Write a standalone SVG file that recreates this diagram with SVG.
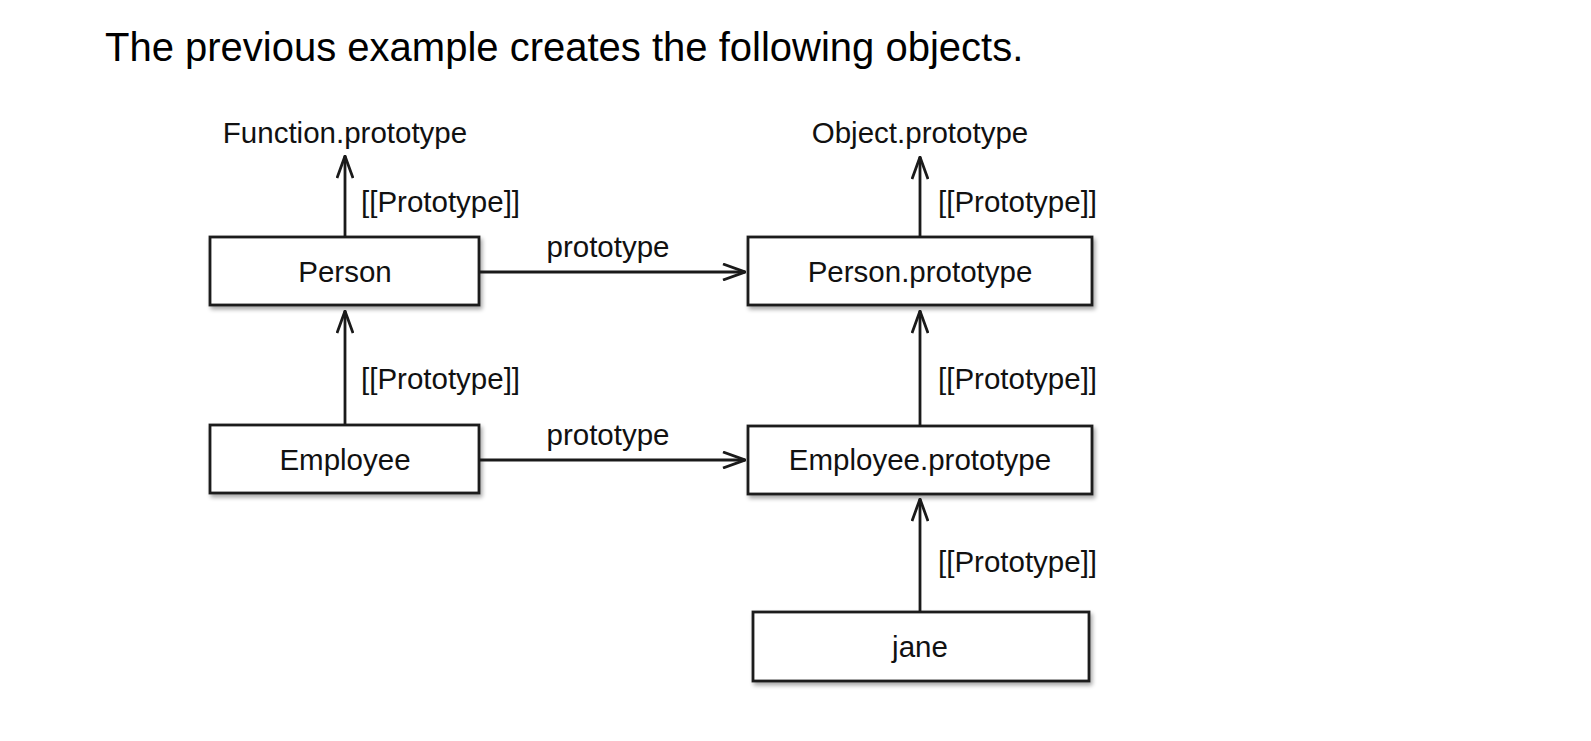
<svg xmlns="http://www.w3.org/2000/svg" width="1591" height="741" viewBox="0 0 1591 741">
<style>
.t{font-family:"Liberation Sans",Arial,Helvetica,sans-serif;fill:#111}
.title{font-size:40px;fill:#000}
.lbl{font-size:29.5px}
.box{fill:#fff;stroke:#1a1a1a;stroke-width:2.8;filter:url(#sh)}
.ln{fill:none;stroke:#1a1a1a;stroke-width:2.8}
</style>
<defs>
<filter id="sh" x="-10%" y="-20%" width="130%" height="160%">
<feGaussianBlur in="SourceAlpha" stdDeviation="2"/>
<feOffset dx="1.5" dy="3" result="b"/>
<feComponentTransfer><feFuncA type="linear" slope="0.35"/></feComponentTransfer>
<feMerge><feMergeNode/><feMergeNode in="SourceGraphic"/></feMerge>
</filter>
<marker id="ah" viewBox="0 0 24 18" refX="23" refY="9" markerWidth="24" markerHeight="18" markerUnits="userSpaceOnUse" orient="auto">
<path d="M1,1 L23,9 L1,17" fill="none" stroke="#1a1a1a" stroke-width="2.8" stroke-linejoin="miter"/>
</marker>
</defs>
<rect width="1591" height="741" fill="#fff"/>
<text class="t title" x="105" y="61">The previous example creates the following objects.</text>

<g id="function-prototype"><text class="t lbl" x="345" y="143" text-anchor="middle">Function.prototype</text></g>
<g id="object-prototype"><text class="t lbl" x="920" y="143" text-anchor="middle">Object.prototype</text></g>

<g id="person">
<rect class="box" x="210" y="237" width="269" height="68"/>
<text class="t lbl" x="345" y="282" text-anchor="middle">Person</text>
</g>
<g id="person-prototype">
<rect class="box" x="748" y="237" width="344" height="68"/>
<text class="t lbl" x="920" y="282" text-anchor="middle">Person.prototype</text>
</g>
<g id="employee">
<rect class="box" x="210" y="425" width="269" height="68"/>
<text class="t lbl" x="345" y="470" text-anchor="middle">Employee</text>
</g>
<g id="employee-prototype">
<rect class="box" x="748" y="426" width="344" height="68"/>
<text class="t lbl" x="920" y="470" text-anchor="middle">Employee.prototype</text>
</g>
<g id="jane">
<rect class="box" x="753" y="612" width="336" height="69"/>
<text class="t lbl" x="920" y="657" text-anchor="middle">jane</text>
</g>

<g id="connectors">
<line class="ln" x1="345" y1="237" x2="345" y2="156" marker-end="url(#ah)"/>
<text class="t lbl" x="361" y="212">[[Prototype]]</text>
<line class="ln" x1="920" y1="237" x2="920" y2="157" marker-end="url(#ah)"/>
<text class="t lbl" x="938" y="212">[[Prototype]]</text>
<line class="ln" x1="345" y1="425" x2="345" y2="311" marker-end="url(#ah)"/>
<text class="t lbl" x="361" y="389">[[Prototype]]</text>
<line class="ln" x1="920" y1="426" x2="920" y2="311" marker-end="url(#ah)"/>
<text class="t lbl" x="938" y="389">[[Prototype]]</text>
<line class="ln" x1="920" y1="612" x2="920" y2="499" marker-end="url(#ah)"/>
<text class="t lbl" x="938" y="572">[[Prototype]]</text>
<line class="ln" x1="479" y1="272" x2="745" y2="272" marker-end="url(#ah)"/>
<text class="t lbl" x="608" y="257" text-anchor="middle">prototype</text>
<line class="ln" x1="479" y1="460" x2="745" y2="460" marker-end="url(#ah)"/>
<text class="t lbl" x="608" y="445" text-anchor="middle">prototype</text>
</g>
</svg>
